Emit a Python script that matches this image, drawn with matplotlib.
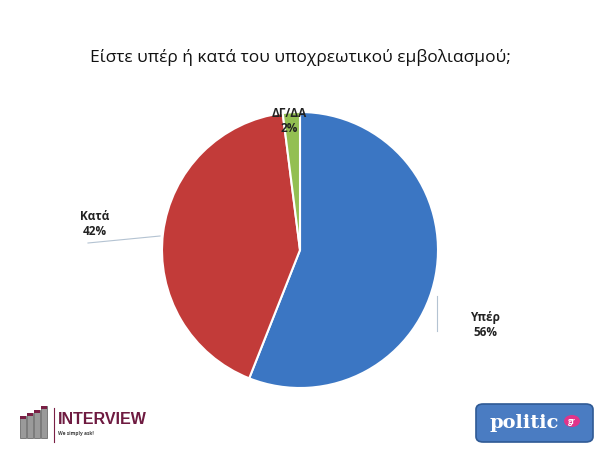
import matplotlib.pyplot as plt
from matplotlib.patches import FancyBboxPatch, Rectangle, Circle
from matplotlib.lines import Line2D

# Δεδομένα δημοσκόπησης
labels = ['Υπέρ', 'Κατά', 'ΔΓ/ΔΑ']
values = [56, 42, 2]
colors = ['#3b76c3', '#c23b39', '#93bf52']
title = 'Είστε υπέρ ή κατά του υποχρεωτικού εμβολιασμού;'

W, H = 600, 450


def fx(px):
    return px / W


def fy(py):
    return 1 - py / H


plt.rcParams['font.family'] = ['Open Sans', 'DejaVu Sans']
fig = plt.figure(figsize=(6, 4.5), dpi=100)
fig.patch.set_facecolor('white')

# πίτα: κέντρο (300, 250) px, ακτίνα 138 px
cx, cy, r = 300, 250, 138
ax = fig.add_axes([fx(cx - r), fy(cy + r), 2 * r / W, 2 * r / H])
ax.pie(values, colors=colors, startangle=90, counterclock=False,
       wedgeprops=dict(edgecolor='white', linewidth=1.5))
ax.set_xlim(-1, 1)
ax.set_ylim(-1, 1)
ax.set_aspect('auto')
ax.axis('off')


def d(px, py):
    return (px - cx) / r, (cy - py) / r


# ετικέτες
label_pos = [(485, 325), (95, 224), (289, 121)]
for lab, val, (px, py) in zip(labels, values, label_pos):
    ax.text(*d(px, py), f'{lab}\n{val}%', ha='center', va='center',
            fontsize=8.5, fontweight='bold', color='#222222',
            linespacing=1.25, clip_on=False)

# γραμμές οδηγοί
for (x0, y0), (x1, y1) in [((437, 296), (437, 331)), ((88, 243), (160, 236))]:
    p0, p1 = d(x0, y0), d(x1, y1)
    ax.add_line(Line2D([p0[0], p1[0]], [p0[1], p1[1]], color='#b4c3d2',
                       linewidth=0.8, clip_on=False))

fig.text(0.5, fy(58), title, ha='center', va='center', fontsize=12.5,
         color='#111111')

# λογότυπο INTERVIEW
for bx, top in [(20, 416), (27, 413), (34, 410), (41, 406)]:
    fig.add_artist(Rectangle((fx(bx), fy(438)), 6 / W, (438 - top) / H,
                             transform=fig.transFigure, facecolor='#9a9a9a',
                             edgecolor='#5a5a5a', linewidth=0.5))
    fig.add_artist(Rectangle((fx(bx), fy(top + 3)), 6 / W, 3 / H,
                             transform=fig.transFigure, facecolor='#7a1f45',
                             edgecolor='none'))
fig.add_artist(Line2D([fx(54), fx(54)], [fy(408), fy(442)],
                      transform=fig.transFigure, color='#7a1f45', linewidth=0.8))
fig.text(fx(58), fy(420), 'INTERVIEW', ha='left', va='center', fontsize=11.5,
         fontweight='bold', color='#6e1a40', family='Liberation Sans')
fig.text(fx(58), fy(433), 'We simply ask!', ha='left', va='center', fontsize=3.5,
         fontweight='bold', color='#444444')

# λογότυπο politic.gr
fig.add_artist(FancyBboxPatch((fx(476), fy(442)), 117 / W, 38 / H,
                              boxstyle='round,pad=0,rounding_size=0.012',
                              transform=fig.transFigure, facecolor='#4a7cc2',
                              edgecolor='#2f5a95', linewidth=1.2))
fig.text(fx(524), fy(423), 'politic', ha='center', va='center', fontsize=14,
         fontweight='bold', color='white', family='DejaVu Serif')
fig.add_artist(Circle((fx(572), fy(421)), 8 / W, transform=fig.transFigure,
                      facecolor='#e0348a', edgecolor='none'))
fig.text(fx(572), fy(421), 'gr', ha='center', va='center', fontsize=5.5,
         fontweight='bold', color='white')

fig.savefig('out.png', dpi=100, facecolor='white')
